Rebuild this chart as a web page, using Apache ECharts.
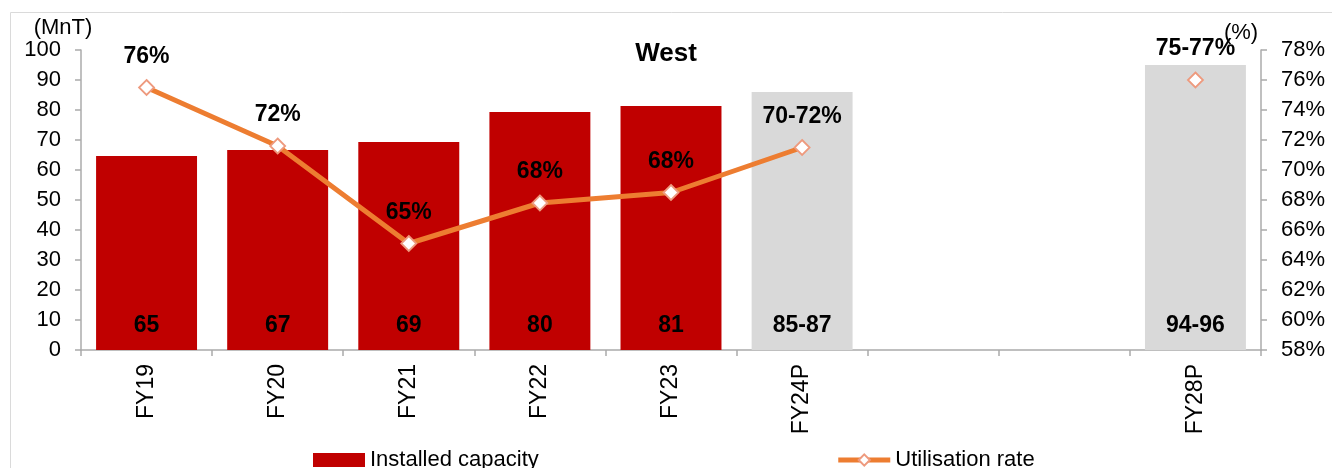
<!DOCTYPE html>
<html>
<head>
<meta charset="utf-8">
<script src="https://cdn.jsdelivr.net/npm/echarts@6/dist/echarts.min.js"></script>
<style>
  html, body { margin: 0; padding: 0; background: #fff; }
  #main { width: 1332px; height: 468px; }
</style>
</head>
<body>
<div id="main"></div>
<script>
// categories (two blank slots between FY24P and FY28P)
var categories = ['FY19', 'FY20', 'FY21', 'FY22', 'FY23', 'FY24P', '', '', 'FY28P'];
var projected = ['FY24P', 'FY28P'];

// installed capacity (MnT) and its labels
var capacity = [64.7, 66.7, 69.3, 79.3, 81.3, 86, null, null, 95];
var capacityLabels = ['65', '67', '69', '80', '81', '85-87', '', '', '94-96'];

// utilisation rate (%) and its labels
var utilisation = [75.5, 71.6, 65.1, 67.8, 68.5, 71.5, null, null, 76];
var utilisationLabels = ['76%', '72%', '65%', '68%', '68%', '70-72%', '', '', '75-77%'];

var FONT = 'Liberation Sans, Arial, sans-serif';

var myChart = echarts.init(document.getElementById('main'));

var barData = capacity.map(function (v, i) {
  return {
    value: v,
    itemStyle: { color: projected.indexOf(categories[i]) >= 0 ? '#D9D9D9' : '#C00000' }
  };
});

var option = {
  animation: false,
  backgroundColor: '#fff',
  textStyle: { fontFamily: FONT },
  graphic: [{
    type: 'rect',
    shape: { x: 10.5, y: 12.5, width: 1400, height: 500 },
    style: { fill: 'none', stroke: '#DADADA', lineWidth: 1 },
    silent: true
  }],
  title: {
    text: 'West',
    left: 'center',
    top: 36,
    textStyle: { fontFamily: FONT, fontSize: 26, fontWeight: 'bold', color: '#000' }
  },
  legend: {
    left: 313,
    top: 449,
    padding: 0,
    itemWidth: 52,
    itemHeight: 14,
    itemGap: 297,
    textStyle: { fontFamily: FONT, fontSize: 22, color: '#000' },
    data: [
      { name: 'Installed capacity', icon: 'rect', itemStyle: { color: '#C00000' } },
      { name: 'Utilisation rate', lineStyle: { width: 5, color: '#ED7D31' } }
    ]
  },
  grid: {
    left: 81,
    right: 71,
    top: 50,
    bottom: 118
  },
  xAxis: {
    type: 'category',
    data: categories,
    axisLine: { lineStyle: { color: '#ABABAB', width: 1.5 } },
    axisTick: { show: true, length: 6, lineStyle: { color: '#ABABAB', width: 1.5 } },
    axisLabel: {
      rotate: 90,
      margin: 14,
      fontFamily: FONT,
      fontSize: 23,
      color: '#000',
      interval: 0
    }
  },
  yAxis: [
    {
      type: 'value',
      min: 0,
      max: 100,
      interval: 10,
      name: '(MnT)',
      nameLocation: 'end',
      nameGap: 6,
      nameTextStyle: { fontFamily: FONT, fontSize: 22, color: '#000', align: 'center', padding: [0, 36, 0, 0] },
      axisLine: { show: true, lineStyle: { color: '#ABABAB', width: 1.5 } },
      axisTick: { show: true, length: 6, lineStyle: { color: '#ABABAB', width: 1.5 } },
      axisLabel: { fontFamily: FONT, fontSize: 22, color: '#000', margin: 20 },
      splitLine: { show: false }
    },
    {
      type: 'value',
      min: 58,
      max: 78,
      interval: 2,
      name: '(%)',
      nameLocation: 'end',
      nameGap: 6,
      nameTextStyle: { fontFamily: FONT, fontSize: 22, color: '#000', align: 'center', padding: [0, 40, 0, 0] },
      axisLine: { show: true, lineStyle: { color: '#ABABAB', width: 1.5 } },
      axisTick: { show: true, length: 6, lineStyle: { color: '#ABABAB', width: 1.5 } },
      axisLabel: { fontFamily: FONT, fontSize: 22, color: '#000', margin: 20, formatter: '{value}%' },
      splitLine: { show: false }
    }
  ],
  series: [
    {
      name: 'Installed capacity',
      type: 'bar',
      yAxisIndex: 0,
      barCategoryGap: '23%',
      itemStyle: { color: '#C00000' },
      data: barData,
      label: {
        show: true,
        position: 'insideBottom',
        distance: 13,
        fontFamily: FONT,
        fontSize: 23,
        fontWeight: 'bold',
        color: '#000',
        formatter: function (p) { return capacityLabels[p.dataIndex]; }
      },
      z: 2
    },
    {
      name: 'Utilisation rate',
      type: 'line',
      yAxisIndex: 1,
      data: utilisation,
      connectNulls: false,
      symbol: 'diamond',
      symbolSize: 15,
      showSymbol: true,
      lineStyle: { color: '#ED7D31', width: 5 },
      itemStyle: { color: '#fff', borderColor: '#EE9A7E', borderWidth: 1.8 },
      label: {
        show: true,
        position: 'top',
        distance: 11,
        fontFamily: FONT,
        fontSize: 23,
        fontWeight: 'bold',
        color: '#000',
        formatter: function (p) { return utilisationLabels[p.dataIndex]; }
      },
      z: 5
    }
  ]
};

myChart.setOption(option);
</script>
</body>
</html>
